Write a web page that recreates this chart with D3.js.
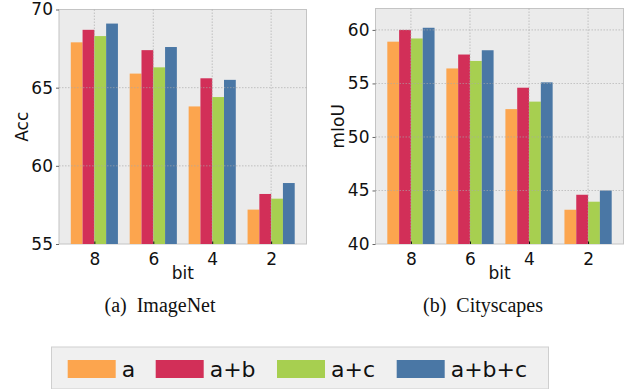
<!DOCTYPE html>
<html>
<head>
<meta charset="utf-8">
<script src="https://cdn.jsdelivr.net/npm/d3@7"></script>
<style>
	body { margin: 0; background: #fff; }
	text { font-family: "DejaVu Sans", sans-serif; fill: #111; }
	.caption { font-family: "Liberation Serif", "DejaVu Serif", serif; }
</style>
</head>
<body>
<svg id="chart" width="631" height="389"></svg>
<script>
const bits = ["8", "6", "4", "2"];
const series = ["a", "a+b", "a+c", "a+b+c"];
const colors = ["#fca54e", "#d22f58", "#a7cf50", "#4a77a5"];

const imagenet_a = [67.9, 65.9, 63.8, 57.2];
const imagenet_ab = [68.7, 67.4, 65.6, 58.2];
const imagenet_ac = [68.3, 66.3, 64.4, 57.9];
const imagenet_abc = [69.1, 67.6, 65.5, 58.9];
const imagenet_ticks = [55, 60, 65, 70];

const city_a = [58.9, 56.4, 52.6, 43.2];
const city_ab = [60.0, 57.7, 54.6, 44.6];
const city_ac = [59.2, 57.1, 53.3, 43.95];
const city_abc = [60.2, 58.1, 55.1, 45.0];
const city_ticks = [40, 45, 50, 55, 60];

const svg = d3.select('#chart');

function panel(cfg) {
	const g = svg.append('g');
	const data = [cfg.a, cfg.ab, cfg.ac, cfg.abc];

	// xlim [-0.6, 3.6] like matplotlib with bar width 0.2
	const x = d3.scaleLinear().domain([-0.6, 3.6]).range([cfg.left, cfg.right]);
	const y = d3.scaleLinear().domain(cfg.ydomain).range([cfg.bottom, cfg.top]);

	g.append('rect')
		.attr('x', cfg.left).attr('y', cfg.top)
		.attr('width', cfg.right - cfg.left)
		.attr('height', cfg.bottom - cfg.top)
		.attr('fill', '#ebebeb')
		.attr('stroke', '#c4c4c4')
		.attr('stroke-width', 1);

	const bw = x(0.2) - x(0);

	data.forEach((vals, s) => {
		g.selectAll(null)
			.data(vals)
			.enter().append('rect')
			.attr('x', (d, i) => x(i - 0.4 + s * 0.2))
			.attr('width', bw)
			.attr('y', d => y(d))
			.attr('height', d => y(cfg.ydomain[0]) - y(d))
			.attr('fill', colors[s]);
	});

	// grid drawn on top of the bars
	g.selectAll(null)
		.data(cfg.ticks.filter(t => t > cfg.ydomain[0] && t < cfg.ydomain[1]))
		.enter().append('line')
		.attr('x1', cfg.left).attr('x2', cfg.right)
		.attr('y1', d => y(d)).attr('y2', d => y(d))
		.attr('stroke', '#aaa').attr('stroke-width', 0.8)
		.attr('stroke-dasharray', '1.5,1.5').attr('opacity', 0.8);

	g.selectAll(null)
		.data(bits)
		.enter().append('line')
		.attr('x1', (d, i) => x(i)).attr('x2', (d, i) => x(i))
		.attr('y1', cfg.top).attr('y2', cfg.bottom)
		.attr('stroke', '#aaa').attr('stroke-width', 0.8)
		.attr('stroke-dasharray', '1.5,1.5').attr('opacity', 0.8);

	const xaxis = g.append('g')
		.attr('transform', `translate(0,${cfg.bottom})`)
		.call(d3.axisBottom(x)
			.tickValues([0, 1, 2, 3])
			.tickFormat(i => bits[i])
			.tickSizeInner(-2.5)
			.tickSizeOuter(0)
			.tickPadding(6));
	xaxis.select('.domain').remove();
	xaxis.selectAll('.tick line').attr('stroke', '#111');
	xaxis.selectAll('.tick text')
		.attr('font-size', 17)
		.attr('font-family', '"DejaVu Sans", sans-serif')
		.attr('dy', '0.9em');

	const yaxis = g.append('g')
		.attr('transform', `translate(${cfg.left},0)`)
		.call(d3.axisLeft(y)
			.tickValues(cfg.ticks)
			.tickFormat(d3.format('d'))
			.tickSizeInner(3)
			.tickSizeOuter(0)
			.tickPadding(3));
	yaxis.select('.domain').remove();
	yaxis.selectAll('.tick line').attr('stroke', '#666');
	yaxis.selectAll('.tick text')
		.attr('font-size', 17)
		.attr('font-family', '"DejaVu Sans", sans-serif');

	g.append('text')
		.attr('x', (cfg.left + cfg.right) / 2)
		.attr('y', 279)
		.attr('text-anchor', 'middle')
		.attr('font-size', 17)
		.text('bit');

	g.append('text')
		.attr('transform', `translate(${cfg.ylabx},${(cfg.top + cfg.bottom) / 2}) rotate(-90)`)
		.attr('text-anchor', 'middle')
		.attr('font-size', 17)
		.text(cfg.ylabel);

	g.append('text')
		.attr('class', 'caption')
		.attr('x', cfg.capx)
		.attr('y', 312)
		.attr('text-anchor', 'middle')
		.attr('font-size', 20)
		.attr('xml:space', 'preserve')
		.text(cfg.caption);
}

panel({
	a: imagenet_a, ab: imagenet_ab, ac: imagenet_ac, abc: imagenet_abc,
	ticks: imagenet_ticks, ydomain: [55, 70],
	left: 59, right: 306.5, top: 9.5, bottom: 244,
	ylabel: 'Acc', ylabx: 28, caption: '(a)  ImageNet', capx: 160
});

panel({
	a: city_a, ab: city_ab, ac: city_ac, abc: city_abc,
	ticks: city_ticks, ydomain: [40, 62],
	left: 375.5, right: 623.5, top: 8.5, bottom: 244,
	ylabel: 'mIoU', ylabx: 344, caption: '(b)  Cityscapes', capx: 483
});

// legend
const legend = svg.append('g');
legend.append('rect')
	.attr('x', 51.5).attr('y', 347)
	.attr('width', 497).attr('height', 42)
	.attr('fill', '#f0f0f0')
	.attr('stroke', '#cfcfcf')
	.attr('stroke-width', 1);

const legx = [67.7, 155.7, 277, 396.7];
const item = legend.selectAll(null)
	.data(series)
	.enter().append('g')
	.attr('transform', (d, i) => `translate(${legx[i]},360)`);

item.append('rect')
	.attr('width', 48).attr('height', 18)
	.attr('fill', (d, i) => colors[i]);

item.append('text')
	.attr('x', 54).attr('y', 9)
	.attr('dy', '0.36em')
	.attr('font-size', 22)
	.text(d => d);
</script>
</body>
</html>
